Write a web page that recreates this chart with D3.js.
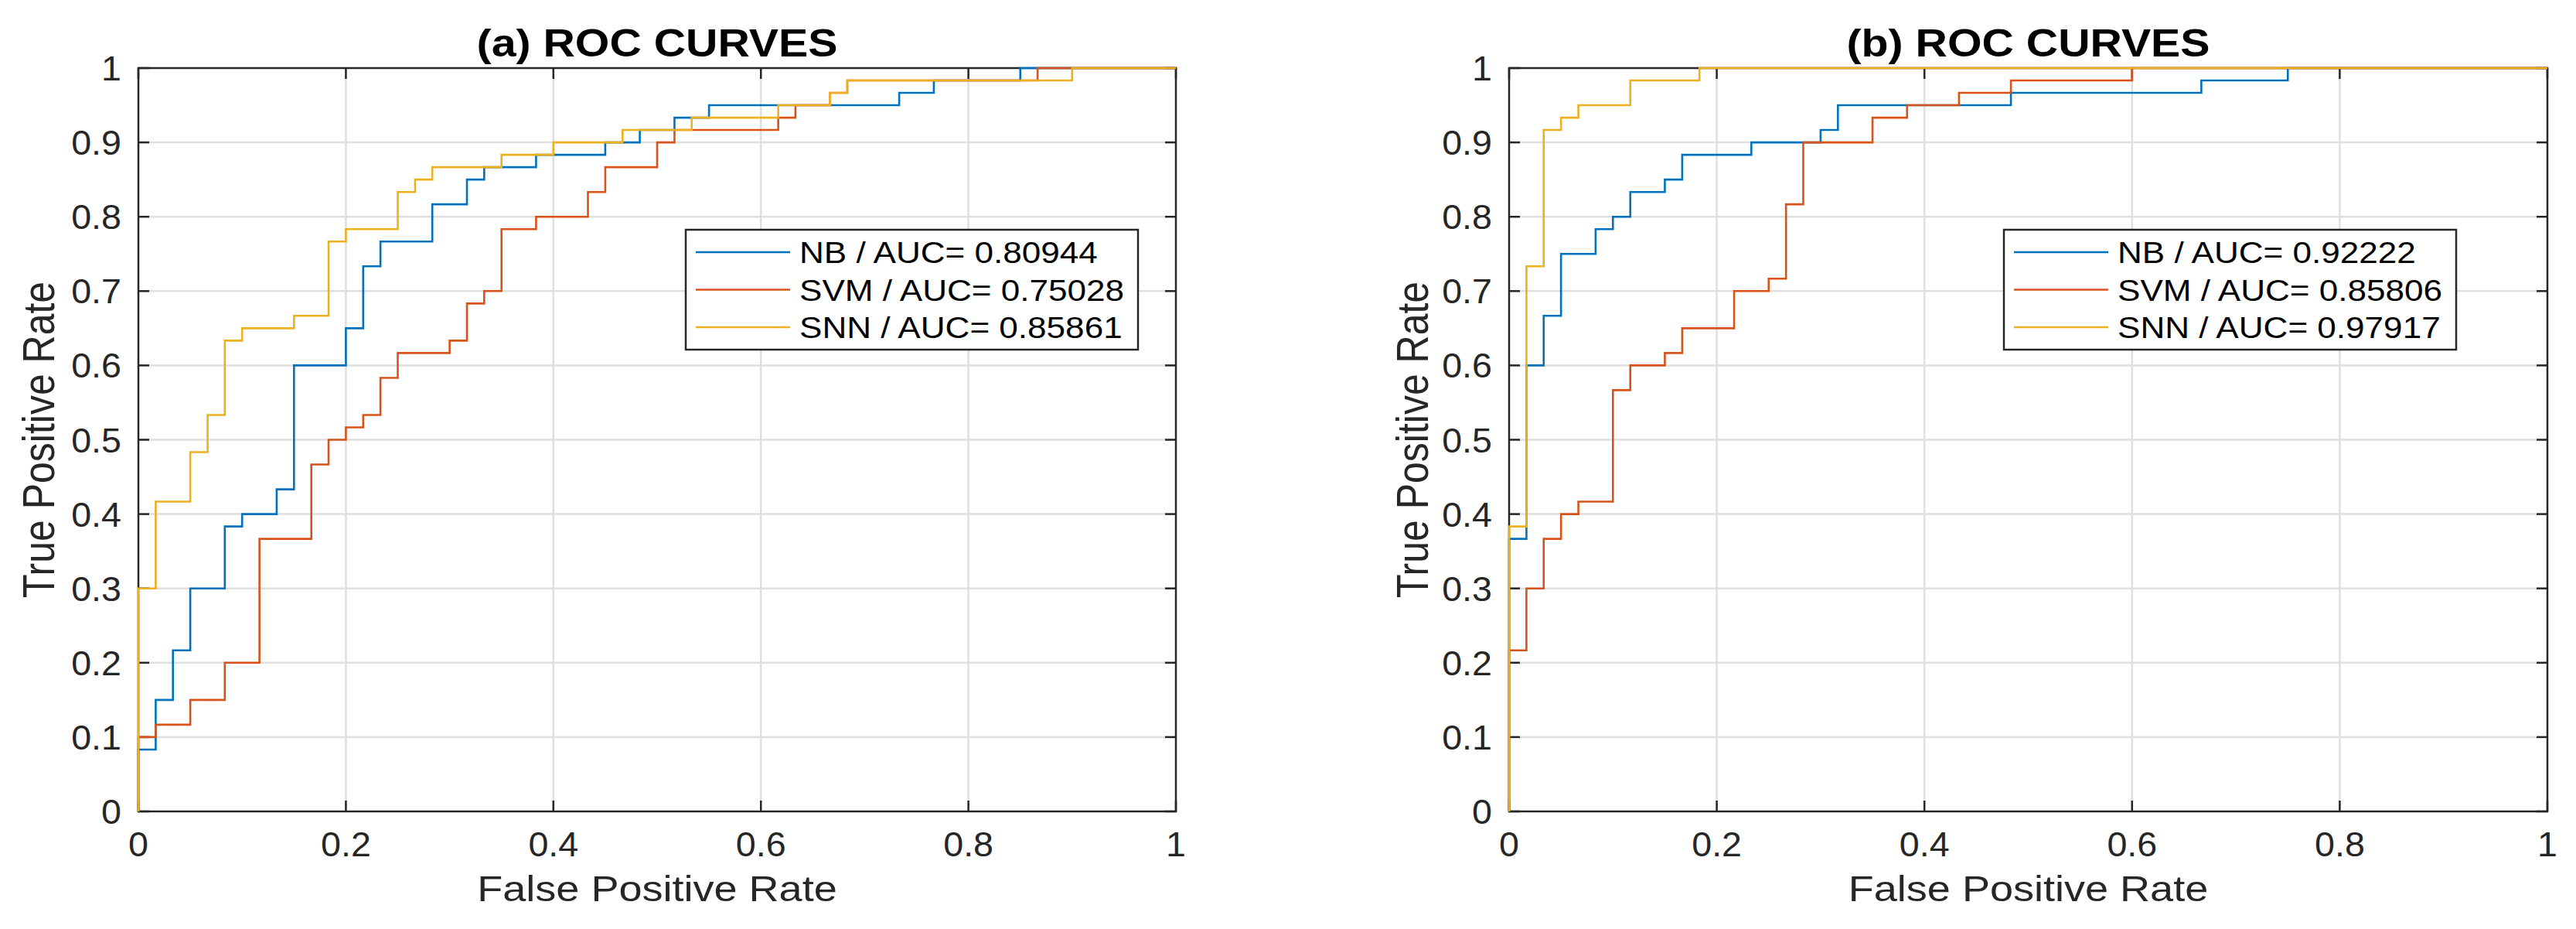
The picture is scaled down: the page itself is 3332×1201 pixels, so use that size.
<!DOCTYPE html>
<html>
<head>
<meta charset="utf-8">
<script src="https://cdn.jsdelivr.net/npm/d3@7/dist/d3.min.js"></script>
<style>
html,body{margin:0;padding:0;background:#fff;}
svg{display:block;}
</style>
</head>
<body>
<svg id="chart" width="3332" height="1201"></svg>
<script>
// ---------- DATA ----------
const xTicks = [0, 0.2, 0.4, 0.6, 0.8, 1];
const xTickLabels = ["0", "0.2", "0.4", "0.6", "0.8", "1"];
const yTicks = [0, 0.1, 0.2, 0.3, 0.4, 0.5, 0.6, 0.7, 0.8, 0.9, 1];
const yTickLabels = ["0", "0.1", "0.2", "0.3", "0.4", "0.5", "0.6", "0.7", "0.8", "0.9", "1"];

const seriesNames = ["NB", "SVM", "SNN"];
const panelTitles = ["(a) ROC CURVES", "(b) ROC CURVES"];
const aucA = ["0.80944", "0.75028", "0.85861"];
const aucB = ["0.92222", "0.85806", "0.97917"];

// Panel (a) ROC step vertices: FPR / TPR
const nbA_fpr = [0, 0, 0.0167, 0.0333, 0.05, 0.0833, 0.1, 0.1333, 0.15, 0.2, 0.2167, 0.2333, 0.2833, 0.3167, 0.3333, 0.3833, 0.45, 0.4833, 0.5167, 0.55, 0.7333, 0.7667, 0.85, 1];
const nbA_tpr = [0, 0.0833, 0.15, 0.2167, 0.3, 0.3833, 0.4, 0.4333, 0.6, 0.65, 0.7333, 0.7667, 0.8167, 0.85, 0.8667, 0.8833, 0.9, 0.9167, 0.9333, 0.95, 0.9667, 0.9833, 1, 1];

const svmA_fpr = [0, 0, 0.0167, 0.05, 0.0833, 0.1167, 0.1667, 0.1833, 0.2, 0.2167, 0.2333, 0.25, 0.3, 0.3167, 0.3333, 0.35, 0.3833, 0.4333, 0.45, 0.5, 0.5167, 0.6167, 0.6333, 0.6667, 0.6833, 0.8667, 1];
const svmA_tpr = [0, 0.1, 0.1167, 0.15, 0.2, 0.3667, 0.4667, 0.5, 0.5167, 0.5333, 0.5833, 0.6167, 0.6333, 0.6833, 0.7, 0.7833, 0.8, 0.8333, 0.8667, 0.9, 0.9167, 0.9333, 0.95, 0.9667, 0.9833, 1, 1];

const snnA_fpr = [0, 0, 0.0167, 0.05, 0.0667, 0.0833, 0.1, 0.15, 0.1833, 0.2, 0.25, 0.2667, 0.2833, 0.35, 0.4, 0.4667, 0.5333, 0.6167, 0.6667, 0.6833, 0.9, 1];
const snnA_tpr = [0, 0.3, 0.4167, 0.4833, 0.5333, 0.6333, 0.65, 0.6667, 0.7667, 0.7833, 0.8333, 0.85, 0.8667, 0.8833, 0.9, 0.9167, 0.9333, 0.95, 0.9667, 0.9833, 1, 1];

// Panel (b)
const nbB_fpr = [0, 0, 0.0167, 0.0333, 0.05, 0.0833, 0.1, 0.1167, 0.15, 0.1667, 0.2333, 0.3, 0.3167, 0.4833, 0.6667, 0.75, 1];
const nbB_tpr = [0, 0.3667, 0.6, 0.6667, 0.75, 0.7833, 0.8, 0.8333, 0.85, 0.8833, 0.9, 0.9167, 0.95, 0.9667, 0.9833, 1, 1];

const svmB_fpr = [0, 0, 0.0167, 0.0333, 0.05, 0.0667, 0.1, 0.1167, 0.15, 0.1667, 0.2167, 0.25, 0.2667, 0.2833, 0.35, 0.3833, 0.4333, 0.4833, 0.6, 1];
const svmB_tpr = [0, 0.2167, 0.3, 0.3667, 0.4, 0.4167, 0.5667, 0.6, 0.6167, 0.65, 0.7, 0.7167, 0.8167, 0.9, 0.9333, 0.95, 0.9667, 0.9833, 1, 1];

const snnB_fpr = [0, 0, 0.0167, 0.0333, 0.05, 0.0667, 0.1167, 0.1833, 1];
const snnB_tpr = [0, 0.3833, 0.7333, 0.9167, 0.9333, 0.95, 0.9833, 1, 1];

// ---------- STYLE / LAYOUT ----------
const colors = ["#0072BD", "#D95319", "#EDB120"];
const axisColor = "#262626";
const gridColor = "#dfdfdf";
const FONT = "'Liberation Sans', Arial, Helvetica, sans-serif";

const panels = [
  { left: 179, right: 1521, top: 88, bottom: 1049, legendLeft: 887, ylabelX: 70,
    title: panelTitles[0], auc: aucA,
    series: [[nbA_fpr, nbA_tpr], [svmA_fpr, svmA_tpr], [snnA_fpr, snnA_tpr]] },
  { left: 1952, right: 3295, top: 88, bottom: 1049, legendLeft: 2592, ylabelX: 1847,
    title: panelTitles[1], auc: aucB,
    series: [[nbB_fpr, nbB_tpr], [svmB_fpr, svmB_tpr], [snnB_fpr, snnB_tpr]] }
];

const svg = d3.select("#chart");
svg.append("rect").attr("width", 3332).attr("height", 1201).attr("fill", "#fff");

function addText(g, str, x, y, o) {
  const t = g.append("text")
    .attr("transform", `translate(${x},${y})` + (o.rotate ? ` rotate(${o.rotate})` : "") + ` scale(${o.sx || 1},${o.sy || 1})`)
    .attr("font-family", FONT)
    .attr("font-size", o.size)
    .attr("font-weight", o.weight || "normal")
    .attr("fill", o.fill || axisColor)
    .attr("text-anchor", o.anchor || "start")
    .text(str);
  return t;
}

panels.forEach(p => {
  const g = svg.append("g");
  const x = d3.scaleLinear().domain([0, 1]).range([p.left, p.right]);
  const y = d3.scaleLinear().domain([0, 1]).range([p.bottom, p.top]);
  const tickLen = 14;

  // grid
  g.append("g").selectAll("line.gx").data(xTicks.slice(1, -1)).join("line")
    .attr("x1", d => x(d)).attr("x2", d => x(d))
    .attr("y1", p.top).attr("y2", p.bottom)
    .attr("stroke", gridColor).attr("stroke-width", 2.5);
  g.append("g").selectAll("line.gy").data(yTicks.slice(1, -1)).join("line")
    .attr("x1", p.left).attr("x2", p.right)
    .attr("y1", d => y(d)).attr("y2", d => y(d))
    .attr("stroke", gridColor).attr("stroke-width", 2.5);

  // ticks (inside, all four sides)
  const tg = g.append("g").attr("stroke", axisColor).attr("stroke-width", 2.5);
  xTicks.forEach(d => {
    tg.append("line").attr("x1", x(d)).attr("x2", x(d)).attr("y1", p.bottom).attr("y2", p.bottom - tickLen);
    tg.append("line").attr("x1", x(d)).attr("x2", x(d)).attr("y1", p.top).attr("y2", p.top + tickLen);
  });
  yTicks.forEach(d => {
    tg.append("line").attr("x1", p.left).attr("x2", p.left + tickLen).attr("y1", y(d)).attr("y2", y(d));
    tg.append("line").attr("x1", p.right).attr("x2", p.right - tickLen).attr("y1", y(d)).attr("y2", y(d));
  });

  // box
  g.append("rect").attr("x", p.left).attr("y", p.top)
    .attr("width", p.right - p.left).attr("height", p.bottom - p.top)
    .attr("fill", "none").attr("stroke", axisColor).attr("stroke-width", 2.5);

  // tick labels
  xTicks.forEach((d, i) => addText(g, xTickLabels[i], x(d), p.bottom + 58, { size: 44, sx: 1.06, anchor: "middle" }));
  yTicks.forEach((d, i) => addText(g, yTickLabels[i], p.left - 22, y(d) + 16, { size: 44, sx: 1.06, anchor: "end" }));

  // axis labels
  const cx = (p.left + p.right) / 2, cy = (p.top + p.bottom) / 2;
  addText(g, "False Positive Rate", cx, 1165, { size: 47, sx: 1.15, anchor: "middle" });
  addText(g, "True Positive Rate", p.ylabelX, cy, { size: 50, rotate: -90, sy: 1.16, anchor: "middle" });

  // title
  addText(g, p.title, cx, 73, { size: 50, sx: 1.146, anchor: "middle", weight: "bold", fill: "#000" });

  // curves
  const line = d3.line().x(d => x(d[0])).y(d => y(d[1])).curve(d3.curveStepAfter);
  p.series.forEach((s, i) => {
    const pts = s[0].map((v, k) => [v, s[1][k]]);
    g.append("path").datum(pts).attr("d", line)
      .attr("fill", "none").attr("stroke", colors[i]).attr("stroke-width", 2.6)
      .attr("stroke-linejoin", "miter");
  });

  // legend
  const lg = g.append("g");
  const lx = p.legendLeft, ly = 297, lw = 585, lh = 155;
  lg.append("rect").attr("x", lx).attr("y", ly).attr("width", lw).attr("height", lh)
    .attr("fill", "#fff").attr("stroke", axisColor).attr("stroke-width", 2.5);
  const rowY = d3.scaleLinear().domain([0, 2]).range([ly + 29, ly + 126]);
  seriesNames.forEach((n, i) => {
    lg.append("line").attr("x1", lx + 13).attr("x2", lx + 135)
      .attr("y1", rowY(i)).attr("y2", rowY(i))
      .attr("stroke", colors[i]).attr("stroke-width", 2.6);
    addText(lg, `${n} / AUC= ${p.auc[i]}`, lx + 147, rowY(i) + 14, { size: 39, sx: 1.13, fill: "#000" });
  });
});
</script>
</body>
</html>
